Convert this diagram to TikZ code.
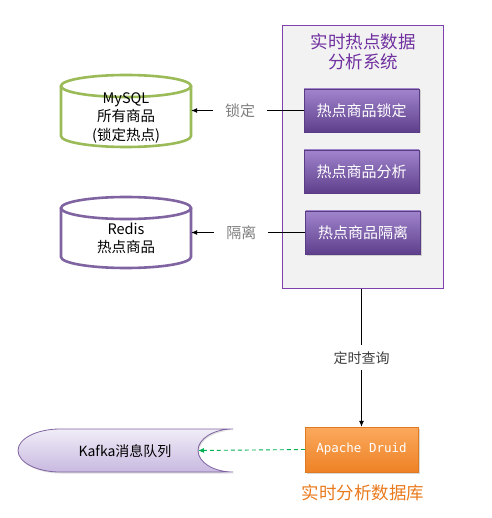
\documentclass[tikz,border=0pt]{standalone}
\usepackage{fontspec}
\setmainfont{Noto Sans CJK SC}
\setmonofont{DejaVu Sans Mono}
\usetikzlibrary{arrows.meta,shadows}
\definecolor{sysborder}{HTML}{8040B0}
\definecolor{sysfill}{HTML}{F2F2F2}
\definecolor{titlecol}{HTML}{7030A0}
\definecolor{btntop}{HTML}{A084CC}
\definecolor{btnbot}{HTML}{5E3F8C}
\definecolor{btnborder}{HTML}{5A3C84}
\definecolor{mysqlcol}{HTML}{9BBB59}
\definecolor{rediscol}{HTML}{8064A2}
\definecolor{labelgray}{HTML}{7F7F7F}
\definecolor{darkgray}{HTML}{404040}
\definecolor{druidtop}{HTML}{FBA95E}
\definecolor{druidbot}{HTML}{EE8225}
\definecolor{druidborder}{HTML}{E07A20}
\definecolor{orangetext}{HTML}{E97A1E}
\definecolor{kafkatop}{HTML}{F0EDF7}
\definecolor{kafkabot}{HTML}{C8B9E0}
\definecolor{kafkaborder}{HTML}{8064A2}
\definecolor{dashgreen}{HTML}{00B050}
\begin{document}
\begin{tikzpicture}[x=1pt,y=-1pt,
  sysbox/.style={draw=sysborder, fill=sysfill, line width=1pt, minimum width=161pt, minimum height=262pt, inner sep=0pt},
  btn/.style={draw=btnborder, top color=btntop, bottom color=btnbot, minimum width=115pt, minimum height=43pt, inner sep=0pt, text=white, font=\fontsize{15}{18}\selectfont, drop shadow={shadow xshift=1.5pt, shadow yshift=-1.5pt, opacity=0.3}},
  dbarea/.style={minimum width=130pt, minimum height=72pt, inner sep=0pt},
  cyltext/.style={align=center, font=\fontsize{14.5}{18.5}\selectfont, text=black},
  elabel/.style={fill=white, inner xsep=12pt, inner ysep=2pt, text=labelgray, font=\fontsize{15}{18}\selectfont},
  vlabel/.style={fill=white, inner xsep=2pt, inner ysep=6pt, text=darkgray, font=\fontsize{14}{17}\selectfont},
  conn/.style={draw=black, line width=0.8pt, -{Latex[length=6pt,width=5pt]}},
  druidbox/.style={draw=druidborder, top color=druidtop, bottom color=druidbot, minimum width=113pt, minimum height=45pt, inner sep=0pt, text=white, font=\ttfamily\fontsize{12.5}{15}\selectfont, drop shadow={shadow xshift=1.5pt, shadow yshift=-1.5pt, opacity=0.3}},
  kafkaarea/.style={minimum width=215pt, minimum height=43pt, inner sep=0pt}
]
\useasboundingbox (0,0) rectangle (491,518);

% system box
\node[sysbox] (sys) at (362.5,157) {};
\node[align=center, text=titlecol, font=\fontsize{17.5}{20.5}\selectfont] (systitle) at (363,52) {实时热点数据\\分析系统};
\node[btn] (b1) at (361.5,110.5) {热点商品锁定};
\node[btn] (b2) at (361.5,171.5) {热点商品分析};
\node[btn] (b3) at (363,232.5) {热点商品隔离};

% MySQL cylinder
\node[dbarea] (mysql) at (126,110.5) {};
\begin{scope}[line width=2.6pt]
  \filldraw[fill=white, draw=mysqlcol] (61,86) -- (61,136) .. controls (61,142.07) and (90.1,147) .. (126,147) .. controls (161.9,147) and (191,142.07) .. (191,136) -- (191,86);
  \draw[draw=mysqlcol] (126,86) ellipse[x radius=65, y radius=11];
\end{scope}
\node[cyltext] (mysqltext) at (126,118) {MySQL\\所有商品\\(锁定热点)};

% Redis cylinder
\node[dbarea] (redis) at (126,232.5) {};
\begin{scope}[line width=2.6pt]
  \filldraw[fill=white, draw=rediscol] (61,208) -- (61,257) .. controls (61,263.07) and (90.1,268) .. (126,268) .. controls (161.9,268) and (191,263.07) .. (191,257) -- (191,208);
  \draw[draw=rediscol] (126,208) ellipse[x radius=65, y radius=11];
\end{scope}
\node[cyltext] (redistext) at (126,238.5) {Redis\\热点商品};

% connectors from buttons
\draw[conn] (b1.west) -- node[elabel, pos=0.566] (lock) {锁定} (mysql.east);
\draw[conn] (b3.west) -- node[elabel, pos=0.56] (iso) {隔离} (redis.east);

% Druid
\node[druidbox] (druid) at (361.5,449.5) {Apache Druid};
\node[text=orangetext, font=\fontsize{17.5}{20}\selectfont] (druidlabel) at (363,493) {实时分析数据库};
\draw[conn] (sys.south -| druid.north) -- node[vlabel] (query) {定时查询} (druid.north);

% Kafka
\node[kafkaarea] (kafka) at (125.5,450.5) {};
\path[draw=kafkaborder, line width=0.8pt, top color=kafkatop, bottom color=kafkabot, drop shadow={shadow xshift=1pt, shadow yshift=-1.5pt, opacity=0.25}]
  (233,429) -- (60,429) .. controls (36.8,429) and (18,438.63) .. (18,450.5)
  .. controls (18,462.37) and (36.8,472) .. (60,472) -- (233,472)
  .. controls (213.67,472) and (198,462.37) .. (198,450.5)
  .. controls (198,438.63) and (213.67,429) .. (233,429) -- cycle;
\coordinate (kafkain) at (198,450.5);
\node[font=\fontsize{14}{17}\selectfont, text=black] (kafkatext) at (125,451) {Kafka消息队列};
\draw[draw=dashgreen, line width=0.9pt, dash pattern=on 4pt off 3pt, -{Latex[length=6pt,width=5pt]}] (druid.west) -- (kafkain);
\end{tikzpicture}
\end{document}
